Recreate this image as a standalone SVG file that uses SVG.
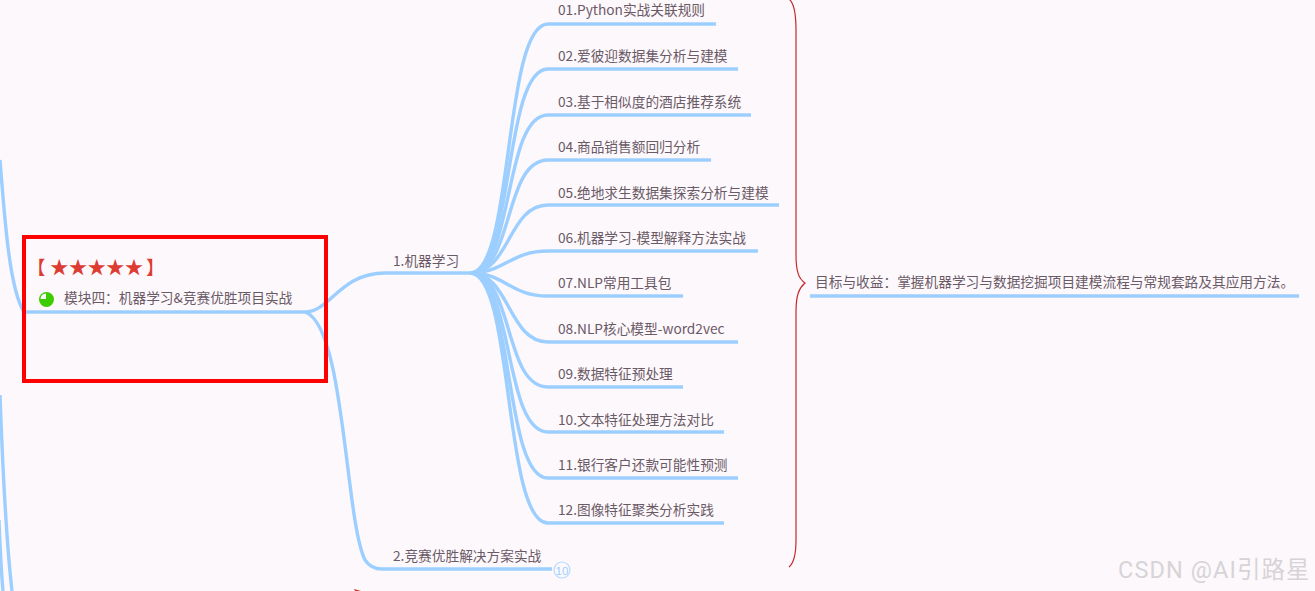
<svg xmlns="http://www.w3.org/2000/svg" width="1315" height="591" viewBox="0 0 1315 591">
<style>
.t{font-family:"Noto Sans CJK SC","Liberation Sans",sans-serif;font-size:13.700px;fill:#6a5a66}
.l{fill:none;stroke:#9ccfff;stroke-width:3.400;stroke-linecap:butt}
.s{font-family:"Noto Sans CJK SC","DejaVu Sans",sans-serif;font-size:18.500px;fill:#dc3c32}
</style>
<rect width="1315" height="591" fill="#fdf8fc"/>
<g id="connectors">
<path class="l" d="M0 160C5 225 10 290 24 312"/>
<path class="l" d="M0 395C2 450 5 530 12 591"/>
<path class="l" d="M-1 520C0 545 1 570 3 591"/>
<path class="l" d="M24 312H305C330 312 340 273 385 273H470"/>
<path class="l" d="M305 312C345 325 345 520 365 560Q371 569 382 569H552"/>
<path class="l" d="M470 273C514 273 503 24 548 24H716"/>
<path class="l" d="M470 273C514 273 503 69 548 69H738"/>
<path class="l" d="M470 273C514 273 503 115 548 115H751"/>
<path class="l" d="M470 273C514 273 503 160 548 160H711"/>
<path class="l" d="M470 273C510 273 508 205 548 205H779"/>
<path class="l" d="M470 273C505 273 510 251 548 251H758"/>
<path class="l" d="M470 273C505 273 510 296 548 296H683"/>
<path class="l" d="M470 273C510 273 508 342 548 342H738"/>
<path class="l" d="M470 273C514 273 503 387 548 387H683"/>
<path class="l" d="M470 273C514 273 503 432 548 432H724"/>
<path class="l" d="M470 273C514 273 503 478 548 478H738"/>
<path class="l" d="M470 273C514 273 503 523 548 523H724"/>
<path class="l" d="M810 296H1299"/>
<path d="M789 -1C794 3 796 12 796 30V255C796 272 799 279 805 283C799 288 796 295 796 312V540C796 555 794 563 789 567" fill="none" stroke="#c42a2a" stroke-width="1.200"/>
<path d="M354 589L361 591H355Z" fill="#d9322e"/>
</g>
<g id="root-node">
<rect x="24" y="237" width="302" height="144" fill="none" stroke="#fe0000" stroke-width="4"/>
<text class="s" x="27" y="274">【</text>
<text class="s" x="50" y="274" letter-spacing="0.200">★★★★★</text>
<text class="s" x="146" y="274">】</text>
<circle cx="46.500" cy="299.500" r="7.500" fill="#3ccc00"/>
<path d="M46 299V293.500A6 6 0 0 0 40.500 299Z" fill="#fdf8fc"/>
<text class="t" x="64" y="303">模块四：机器学习&amp;竞赛优胜项目实战</text>
</g>
<g id="n1"><text class="t" x="393" y="266">1.机器学习</text></g>
<g id="n2"><text class="t" x="393" y="561">2.竞赛优胜解决方案实战</text>
<circle cx="562" cy="570" r="8" fill="#fdf8fc" stroke="#b5d9ff" stroke-width="1.200"/>
<text x="562" y="574.500" text-anchor="middle" font-family="'Liberation Sans',sans-serif" font-size="11.500" fill="#9ccfff">10</text></g>
<g id="c01"><text class="t" x="558" y="15">01.Python实战关联规则</text></g>
<g id="c02"><text class="t" x="558" y="61">02.爱彼迎数据集分析与建模</text></g>
<g id="c03"><text class="t" x="558" y="107">03.基于相似度的酒店推荐系统</text></g>
<g id="c04"><text class="t" x="558" y="152">04.商品销售额回归分析</text></g>
<g id="c05"><text class="t" x="558" y="198">05.绝地求生数据集探索分析与建模</text></g>
<g id="c06"><text class="t" x="558" y="243">06.机器学习-模型解释方法实战</text></g>
<g id="c07"><text class="t" x="558" y="288">07.NLP常用工具包</text></g>
<g id="c08"><text class="t" x="558" y="334">08.NLP核心模型-word2vec</text></g>
<g id="c09"><text class="t" x="558" y="379">09.数据特征预处理</text></g>
<g id="c10"><text class="t" x="558" y="425">10.文本特征处理方法对比</text></g>
<g id="c11"><text class="t" x="558" y="470">11.银行客户还款可能性预测</text></g>
<g id="c12"><text class="t" x="558" y="515">12.图像特征聚类分析实践</text></g>
<g id="goal"><text class="t" x="815" y="287">目标与收益：掌握机器学习与数据挖掘项目建模流程与常规套路及其应用方法。</text></g>
<text x="1118" y="578" font-family="'Roboto','Noto Sans CJK SC',sans-serif" font-size="23.500" fill="#d6d4d6" letter-spacing="1.100">CSDN @AI引路星</text>
</svg>
